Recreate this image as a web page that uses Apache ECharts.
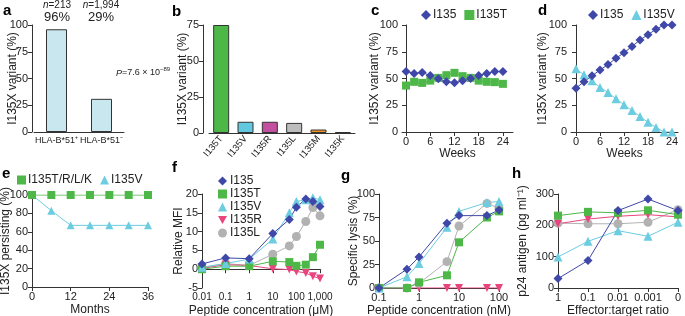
<!DOCTYPE html>
<html>
<head>
<meta charset="utf-8">
<script src="https://cdn.jsdelivr.net/npm/echarts@6/dist/echarts.min.js"></script>
<style>
  html, body { margin: 0; padding: 0; background: #fff; }
  #chart { width: 685px; height: 316px; }
</style>
</head>
<body>
<div id="chart"></div>
<script>
// panel a
const aCats = ['HLA-B*51⁺', 'HLA-B*51⁻'];
const aVals = [96, 31];

// panel b
const bCats = ['I135T', 'I135V', 'I135R', 'I135L', 'I135M', 'I135K'];
const bVals = [75, 7.8, 7.8, 7, 2.4, 0.6];
const bColors = ['#4db848', '#62c8df', '#c24f9f', '#bdbdbd', '#f39324', '#333333'];

// panels c, d (weeks)
const weeks = [0, 2, 4, 6, 8, 10, 12, 14, 16, 18, 20, 22, 24];
const cI135 = [56.5, 54.7, 55.6, 52.8, 49.7, 47, 46, 48, 50, 52.8, 54.7, 56.5, 56.5];
const cI135T = [43.4, 46.9, 45.9, 48, 50.6, 53.1, 55.3, 52.2, 50.6, 48, 46.9, 46.6, 45];
const dI135 = [41, 47, 52.5, 58, 63, 69, 74, 80, 86, 91, 96, 100, 100];
const dI135V = [59, 53.4, 48, 41.6, 37, 31, 25.5, 20, 14.6, 9, 4.3, 0, 0];

// panel e (months)
const months = [0, 6, 12, 18, 24, 30, 36];
const eTRLK = [100, 100, 100, 100, 100, 100, 100];
const eV = [100, 83, 67, 67, 67, 67, 67];

// panel f (peptide, uM)
const fConc = [0.01, 0.1, 1, 10, 50, 100, 250, 500, 1000];
const fI135 = [1.4, 3, 2.8, 9.5, 13.2, 16.5, 18.7, 18, 16.7];
const fI135T = [0, 0.8, 0.8, 2.1, 1.9, 0.9, 1.2, 3.2, 6.5];
const fI135V = [0.5, 1.5, 2.7, 8, 15, 18, 18.5, 19, 18.5];
const fI135R = [0.2, 1.2, 1, 0.1, -0.1, -0.6, -1, -1.9, -2.5];
const fI135L = [0.5, 1.5, 1, 4, 6.2, 8.7, 12.7, 16.4, 14.2];

// panel g (peptide, nM)
const gConc = [0.1, 0.5, 1, 5, 10, 50, 100];
const gI135 = [0, 20, 33, 69, 77, 77, 83];
const gI135T = [0, 0, 6, 13.5, 48.6, 75, 81.5];
const gI135V = [0, 12, 26, 64.5, 81.5, 91, 92];
const gI135R = [0, 0, 0, 0, 0, 0, 0];
const gI135L = [0, 0, 5, 28, 66, 90, 85];

// panel h (E:T ratio)
const hCats = ['1', '0.1', '0.01', '0.001', '0'];
const hI135 = [30, 88, 247, 284, 247];
const hI135T = [231, 243, 240, 248, 234];
const hI135R = [205, 220, 229, 234, 227];
const hI135L = [207, 205, 205, 210, 250];
const hI135V = [99, 149, 183, 165, 210];

const FONT = '"Liberation Sans", Arial, sans-serif';
const INK = '#222';
const BLUE = '#3f47a8', GREEN = '#4db848', CYAN = '#6ccde0', PINK = '#e8457e', GRAY = '#b2b2b2';
const DOWN = 'path://M0,0L10,0L5,9Z';

const chart = echarts.init(document.getElementById('chart'));

const line = { show: true, lineStyle: { color: '#333', width: 1 } };
const tick = { show: true, length: 4, lineStyle: { color: '#333', width: 1 } };
const label = { color: INK, fontSize: 11, fontFamily: FONT, margin: 4 };

function yAx(grid, min, max, interval, name, gap, extra) {
  return Object.assign({
    type: 'value', gridIndex: grid, min, max, interval,
    name, nameLocation: 'middle', nameGap: gap, nameMoveOverlap: false,
    nameTextStyle: { color: INK, fontSize: 12, fontFamily: FONT },
    axisLine: line, axisTick: tick, axisLabel: label, splitLine: { show: false }
  }, extra || {});
}
function xAx(grid, opts) {
  return Object.assign({
    gridIndex: grid, nameLocation: 'middle', nameGap: 17, nameMoveOverlap: false,
    nameTextStyle: { color: INK, fontSize: 12, fontFamily: FONT },
    axisLine: line, axisTick: tick, axisLabel: label, splitLine: { show: false }
  }, opts);
}
const logFmt = v => {
  const r = +Number(v).toPrecision(3);
  return r >= 1000 ? r.toLocaleString('en-US') : String(r);
};

function pts(xs, ys) { return xs.map((x, i) => [x, ys[i]]); }
function ln(name, xi, yi, data, color, symbol, size, extra) {
  return Object.assign({
    name, type: 'line', xAxisIndex: xi, yAxisIndex: yi, data,
    symbol, symbolSize: size, showSymbol: true,
    lineStyle: { color, width: 1 }, itemStyle: { color }
  }, extra || {});
}
const down = { symbol: 'triangle', symbolRotate: 180 };

const g = (left, top, width, height) => ({ left, top, width, height, outerBoundsMode: 'none', containLabel: false });

const txt = (text, x, y, o) => ({
  type: 'text', x, y,
  style: Object.assign({ text, fill: INK, font: '12px ' + FONT, align: 'center', verticalAlign: 'middle' }, o || {})
});
const letter = (t, x, y) => txt(t, x, y, { font: 'bold 15px ' + FONT, fill: '#000', align: 'left' });
const italRich = { i: { fontStyle: 'italic', fontSize: 10, fontFamily: FONT, fill: INK } };
const smallLabel = Object.assign({}, label, { fontSize: 10 });

chart.setOption({
  animation: false,
  backgroundColor: '#fff',
  textStyle: { fontFamily: FONT },
  grid: [
    g(34, 25, 90, 107),
    g(209, 25, 146, 108),
    g(402, 25, 111, 107),
    g(571, 25, 107, 107),
    g(32, 195, 116, 92),
    g(202, 194, 118, 94),
    g(379, 194, 120, 94),
    g(558, 194, 120, 94)
  ],
  xAxis: [
    xAx(0, { type: 'category', data: aCats, axisTick: { show: false },
      axisLabel: { color: INK, fontSize: 9, fontFamily: FONT, margin: 4, interval: 0 } }),
    xAx(1, { type: 'category', data: bCats, axisTick: { show: false },
      axisLabel: { color: INK, fontSize: 9.5, fontFamily: FONT, margin: 4, interval: 0, rotate: 50 } }),
    xAx(2, { type: 'value', min: -1, max: 26.5, name: 'Weeks', nameGap: 16,
      axisTick: Object.assign({}, tick, { customValues: [0, 6, 12, 18, 24] }),
      axisLabel: Object.assign({}, label, { customValues: [0, 6, 12, 18, 24] }) }),
    xAx(3, { type: 'value', min: -1.25, max: 25.5, name: 'Weeks', nameGap: 16,
      axisTick: Object.assign({}, tick, { customValues: [0, 6, 12, 18, 24] }),
      axisLabel: Object.assign({}, label, { customValues: [0, 6, 12, 18, 24] }) }),
    xAx(4, { type: 'value', min: 0, max: 36, interval: 12, name: 'Months' }),
    xAx(5, { type: 'log', logBase: 10, min: 0.01, max: 1000, name: 'Peptide concentration (μM)',
      axisLabel: Object.assign({}, smallLabel, { formatter: logFmt }) }),
    xAx(6, { type: 'log', logBase: 10, min: 0.1, max: 100, name: 'Peptide concentration (nM)',
      axisLabel: Object.assign({}, label, { formatter: logFmt }) }),
    xAx(7, { type: 'category', data: hCats, boundaryGap: false, name: 'Effector:target ratio',
      axisLabel: Object.assign({}, label, { interval: 0 }) })
  ],
  yAxis: [
    yAx(0, 0, 100, 25, 'I135X variant (%)', 13, { offset: 2 }),
    yAx(1, 0, 75, 25, 'I135X variant (%)', 14, { offset: 6 }),
    yAx(2, 0, 100, 25, 'I135X variant (%)', 21),
    yAx(3, 0, 100, 25, 'I135X variant (%)', 22),
    yAx(4, 0, 100, 20, 'I135X persisting (%)', 20),
    yAx(5, -5, 20, 5, 'Relative MFI', 17),
    yAx(6, 0, 100, 25, 'Specific lysis (%)', 19),
    yAx(7, 0, 300, 100, 'p24 antigen (pg ml⁻¹)', 29)
  ],
  legend: [
    { left: 416, top: 4, itemWidth: 10, itemHeight: 10, itemGap: 8,
      textStyle: { color: INK, fontSize: 12, fontFamily: FONT, padding: [0, 0, 0, -3] },
      data: [{ name: 'I135', icon: 'diamond' }, { name: 'I135T', icon: 'rect' }] },
    { left: 583, top: 4, itemWidth: 10, itemHeight: 10, itemGap: 8,
      textStyle: { color: INK, fontSize: 12, fontFamily: FONT, padding: [0, 0, 0, -3] },
      data: [{ name: 'I135', icon: 'diamond' }, { name: 'I135V', icon: 'triangle' }] },
    { left: 12, top: 169, itemWidth: 9, itemHeight: 9, itemGap: 8,
      textStyle: { color: INK, fontSize: 12, fontFamily: FONT, padding: [0, 0, 0, -3] },
      data: [{ name: 'I135T/R/L/K', icon: 'rect' }, { name: 'I135V', icon: 'triangle' }] },
    { left: 213, top: 170, orient: 'vertical', itemWidth: 9, itemHeight: 9, itemGap: 1,
      textStyle: { color: INK, fontSize: 12, fontFamily: FONT, lineHeight: 10, padding: [0, 0, 0, -2] },
      data: [{ name: 'I135', icon: 'diamond' }, { name: 'I135T', icon: 'rect' },
             { name: 'I135V', icon: 'triangle' }, { name: 'I135R', icon: DOWN }, { name: 'I135L', icon: 'circle' }] }
  ],
  series: [
    { type: 'bar', xAxisIndex: 0, yAxisIndex: 0, data: aVals, barWidth: 21,
      itemStyle: { color: '#c9e7ef', borderColor: '#333', borderWidth: 1 } },
    { type: 'bar', xAxisIndex: 1, yAxisIndex: 1, barWidth: 16,
      data: bVals.map((v, i) => ({ value: v, itemStyle: { color: bColors[i] } })),
      itemStyle: { borderColor: '#333', borderWidth: 1 } },

    ln('I135T', 2, 2, pts(weeks, cI135T), GREEN, 'rect', 8),
    ln('I135', 2, 2, pts(weeks, cI135), BLUE, 'diamond', 9),

    ln('I135V', 3, 3, pts(weeks, dI135V), CYAN, 'triangle', 9),
    ln('I135', 3, 3, pts(weeks, dI135), BLUE, 'diamond', 9),

    ln('I135V', 4, 4, pts(months, eV), CYAN, 'triangle', 8),
    ln('I135T/R/L/K', 4, 4, pts(months, eTRLK), GREEN, 'rect', 8),

    ln('I135L', 5, 5, pts(fConc, fI135L), GRAY, 'circle', 9),
    ln('I135R', 5, 5, pts(fConc, fI135R), PINK, 'triangle', 8, down),
    ln('I135T', 5, 5, pts(fConc, fI135T), GREEN, 'rect', 8),
    ln('I135V', 5, 5, pts(fConc, fI135V), CYAN, 'triangle', 9),
    ln('I135', 5, 5, pts(fConc, fI135), BLUE, 'diamond', 9),

    ln('I135R', 6, 6, pts(gConc, gI135R), PINK, 'triangle', 8, down),
    ln('I135L', 6, 6, pts(gConc, gI135L), GRAY, 'circle', 9),
    ln('I135T', 6, 6, pts(gConc, gI135T), GREEN, 'rect', 8),
    ln('I135V', 6, 6, pts(gConc, gI135V), CYAN, 'triangle', 9),
    ln('I135', 6, 6, pts(gConc, gI135), BLUE, 'diamond', 9),

    ln('I135L', 7, 7, hI135L, GRAY, 'circle', 9),
    ln('I135R', 7, 7, hI135R, PINK, 'triangle', 8, down),
    ln('I135V', 7, 7, hI135V, CYAN, 'triangle', 9),
    ln('I135T', 7, 7, hI135T, GREEN, 'rect', 8),
    ln('I135', 7, 7, hI135, BLUE, 'diamond', 9)
  ],
  graphic: [
    letter('a', 3, 11), letter('b', 172, 12), letter('c', 371, 11), letter('d', 538, 11),
    letter('e', 2, 174), letter('f', 172, 168), letter('g', 341, 176), letter('h', 512, 174),
    txt('{i|n}=213', 57, 5, { font: '10px ' + FONT, rich: italRich }),
    txt('{i|n}=1,994', 101, 5, { font: '10px ' + FONT, rich: italRich }),
    txt('96%', 57, 17, { font: '13px ' + FONT }),
    txt('29%', 101, 17, { font: '13px ' + FONT }),
    txt('{i|P}=7.6 × 10', 116, 73, { font: '9px ' + FONT, align: 'left',
      rich: { i: { fontStyle: 'italic', fontSize: 9, fontFamily: FONT, fill: INK } } }),
    txt('−89', 160, 69, { font: '6px ' + FONT, align: 'left' })
  ]
});
</script>
</body>
</html>
